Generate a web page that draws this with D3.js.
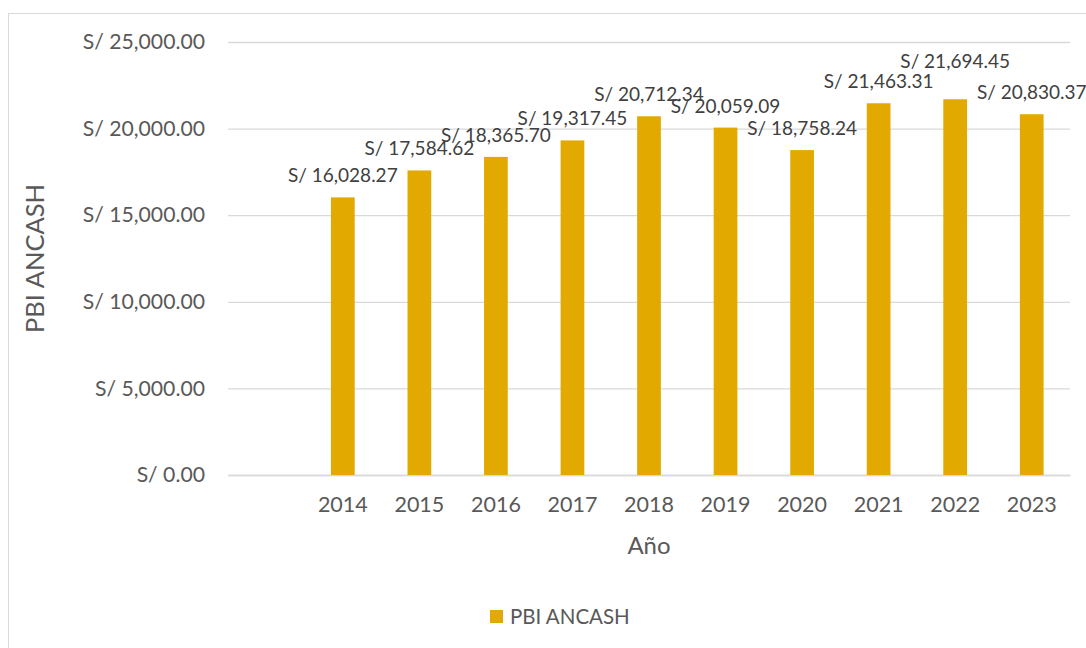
<!DOCTYPE html>
<html>
<head>
<meta charset="utf-8">
<script src="https://cdn.jsdelivr.net/npm/d3@7"></script>
<style>
  html, body { margin: 0; padding: 0; background: #fff; }
  svg { display: block; font-family: Lato, "Open Sans", sans-serif; }
</style>
</head>
<body>
<svg id="chart" width="1086" height="648"></svg>
<script>
// first slot on the x axis is empty in the original chart
const years = ['', '2014', '2015', '2016', '2017', '2018', '2019', '2020', '2021', '2022', '2023'];
const pbi = [null, 16028.27, 17584.62, 18365.70, 19317.45, 20712.34, 20059.09, 18758.24, 21463.31, 21694.45, 20830.37];
const yTicks = [0, 5000, 10000, 15000, 20000, 25000];
const seriesName = 'PBI ANCASH';

const barColor = '#e2aa00';
const textColor = '#595959';
const gridColor = '#d9d9d9';

const svg = d3.select('#chart');
const plot = { left: 228, right: 1070, top: 42, bottom: 475 };

const x = d3.scaleBand()
  .domain(years)
  .range([plot.left, plot.right])
  .paddingInner(0.69)
  .paddingOuter(0.345);

const y = d3.scaleLinear()
  .domain([0, 25000])
  .range([plot.bottom, plot.top]);

const money = v => 'S/ ' + d3.format(',.2f')(v);

// chart border
svg.append('rect')
  .attr('x', 8.5).attr('y', 13.5)
  .attr('width', 1100).attr('height', 700)
  .attr('fill', 'none')
  .attr('stroke', gridColor);

// grid + y labels
const yAxis = svg.append('g')
  .attr('transform', `translate(${plot.left},0)`)
  .call(d3.axisLeft(y)
    .tickValues(yTicks)
    .tickSize(-(plot.right - plot.left))
    .tickPadding(23)
    .tickFormat(money));
yAxis.select('.domain').remove();
yAxis.selectAll('.tick line').attr('stroke', gridColor).attr('stroke-width', 1.3);
yAxis.selectAll('.tick text')
  .attr('fill', textColor)
  .style('font-size', '21.2px')
  .style('font-family', 'Lato, sans-serif');

// x labels
const xAxis = svg.append('g')
  .attr('transform', `translate(0,${plot.bottom})`)
  .call(d3.axisBottom(x).tickSize(0).tickPadding(22));
xAxis.select('.domain').attr('stroke', gridColor).attr('stroke-width', 1.3);
xAxis.selectAll('.tick text')
  .attr('fill', textColor)
  .style('font-size', '21.5px')
  .style('font-family', 'Lato, sans-serif');

// bars
const rows = years.map((yr, i) => ({ year: yr, value: pbi[i] })).filter(d => d.value != null);

svg.append('g')
  .selectAll('rect')
  .data(rows)
  .join('rect')
    .attr('x', d => x(d.year))
    .attr('y', d => y(d.value))
    .attr('width', x.bandwidth())
    .attr('height', d => y(0) - y(d.value))
    .attr('fill', barColor);

// data labels, lifted when they would sit on top of the previous one
let prev = null;
rows.forEach(d => {
  d.lx = x(d.year) + x.bandwidth() / 2;
  d.ly = y(d.value) - 15;
  if (prev && Math.abs(d.ly - prev.ly) < 10) d.ly = prev.ly - 20;
  prev = d;
});

svg.append('g')
  .selectAll('text')
  .data(rows)
  .join('text')
    .attr('x', d => d.lx)
    .attr('y', d => d.ly)
    .attr('text-anchor', 'middle')
    .attr('fill', '#404040')
    .style('font-size', '19px')
    .text(d => money(d.value));

// axis titles
svg.append('text')
  .attr('x', (plot.left + plot.right) / 2)
  .attr('y', 554)
  .attr('text-anchor', 'middle')
  .attr('fill', textColor)
  .style('font-size', '24px')
  .text('Año');

svg.append('text')
  .attr('transform', `translate(44,${(plot.top + plot.bottom) / 2}) rotate(-90)`)
  .attr('text-anchor', 'middle')
  .attr('fill', textColor)
  .style('font-size', '25.5px')
  .text('PBI ANCASH');

// legend
const legend = svg.append('g').attr('transform', 'translate(490,610)');
legend.append('rect')
  .attr('width', 13).attr('height', 13)
  .attr('fill', barColor);
legend.append('text')
  .attr('x', 20).attr('y', 14)
  .attr('fill', textColor)
  .style('font-size', '20.5px')
  .text(seriesName);
</script>
</body>
</html>
